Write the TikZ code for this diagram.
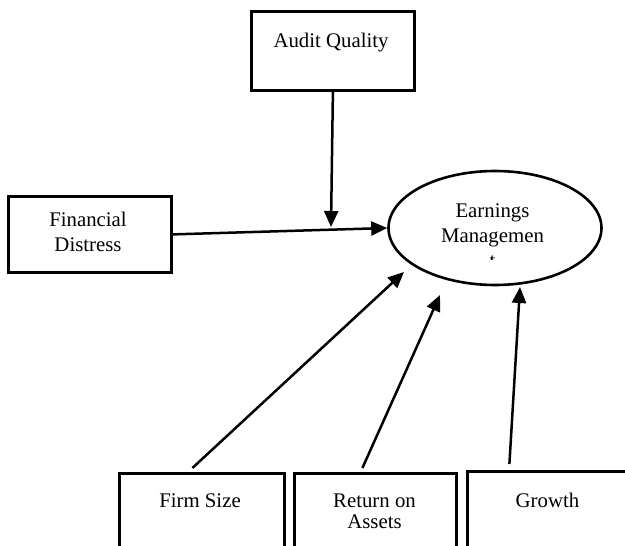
\documentclass[tikz,border=0pt]{standalone}
\usepackage{fontspec}
\setmainfont{Liberation Serif}
\usetikzlibrary{shapes.geometric,arrows.meta}
\begin{document}
\begin{tikzpicture}[x=1pt,y=-1pt,
  box/.style={draw,line width=2.8pt,rectangle,inner sep=0pt,anchor=north west},
  lbl/.style={anchor=base,inner sep=0pt,font=\fontsize{20.8}{25}\selectfont},
  arr/.style={line width=2.5pt,-{Triangle[length=16pt,width=14pt]}}]
\clip (0,0) rectangle (625,546);
% boxes
\node[box,minimum width=163pt,minimum height=79pt] (aq) at (250,10) {};
\node[box,minimum width=163pt,minimum height=76pt] (fd) at (7,195) {};
\node[box,minimum width=165pt,minimum height=100pt] (fs) at (118,472) {};
\node[box,minimum width=162pt,minimum height=100pt] (roa) at (293,472) {};
\node[box,minimum width=180pt,minimum height=100pt] (gr) at (466,470) {};
\node[draw,ellipse,line width=2.6pt,inner sep=0pt,minimum width=213pt,minimum height=114pt] (em) at (495,228) {};
% labels
\node[lbl] (aqt) at (331,47) {Audit Quality};
\node[lbl] (fdt1) at (88,226) {Financial};
\node[lbl] (fdt2) at (88,251) {Distress};
\node[lbl] (emt1) at (492.5,217) {Earnings};
\node[lbl] (emt2) at (492.5,242) {Managemen};
\begin{scope}
  \clip (484,253) rectangle (502,259.5);
  \node[lbl] (emt3) at (492.5,267) {t};
\end{scope}
\node[lbl] (fst) at (200,507) {Firm Size};
\node[lbl] (roat1) at (374.5,507) {Return on};
\node[lbl] (roat2) at (374.5,528) {Assets};
\node[lbl] (grt) at (547.5,507) {Growth};
% free ends
\coordinate (meet) at (331,227);
\coordinate (fstip) at (404,272);
\coordinate (roatip) at (440,295);
\coordinate (grtip) at (520,287);
% connectors
\draw[arr] (fd.east) -- (em.west);
\draw[arr] (aq.south) -- (meet);
\draw[arr] ([xshift=-9.5pt,yshift=4pt]fs.north) -- (fstip);
\draw[arr] ([xshift=-13pt,yshift=4pt]roa.north) -- (roatip);
\draw[arr] ([xshift=-48pt,yshift=6pt]gr.north) -- (grtip);
\end{tikzpicture}
\end{document}
